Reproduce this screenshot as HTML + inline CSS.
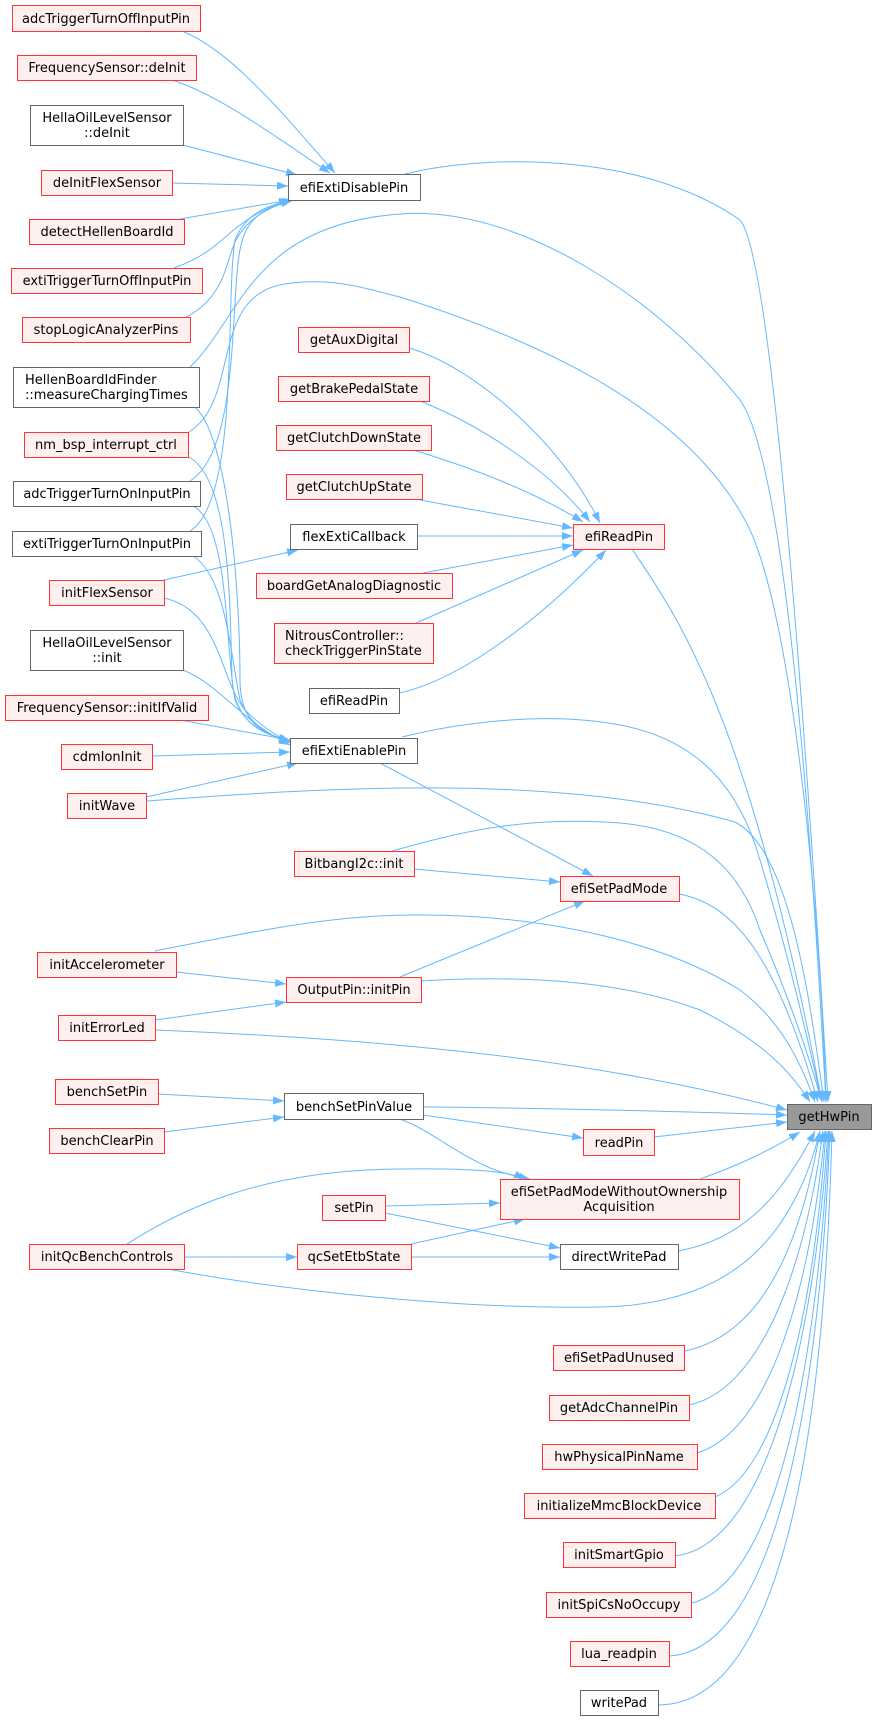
<!DOCTYPE html>
<html><head><meta charset="utf-8"><style>
html,body{margin:0;padding:0;background:#fff;}
svg{display:block;}
text{font-family:"DejaVu Sans","Liberation Sans",sans-serif;font-size:13px;fill:#000;}
.r{fill:#fff0f0;stroke:#f33;stroke-width:1;}
.g{fill:#fff;stroke:#666;stroke-width:1;}
.e{fill:none;stroke:#63b8ff;stroke-width:1;marker-end:url(#a);}
</style></head><body>
<svg width="876" height="1721" viewBox="0 0 876 1721" xmlns="http://www.w3.org/2000/svg">
<defs><marker id="a" markerUnits="userSpaceOnUse" markerWidth="12" markerHeight="8" refX="11" refY="4" orient="auto"><path d="M0,0 L11,4 L0,8 z" fill="#63b8ff"/></marker></defs>

<path class="e" d="M405,174 C480,155 640,150 740,220 C775,260 810,800 828,1102"/>
<path class="e" d="M190,367 C240,320 250,225 400,214 C520,205 660,300 740,400 C790,470 815,900 826,1102"/>
<path class="e" d="M189,432 C240,400 210,300 280,285 C330,275 370,290 400,297 C520,335 680,400 745,520 C790,600 820,900 826,1102"/>
<path class="e" d="M632,549 C680,620 750,720 822,1102"/>
<path class="e" d="M402,737 C450,725 540,710 620,725 C700,740 740,790 760,860 C790,960 810,1050 822,1102"/>
<path class="e" d="M146,801 C300,790 550,770 735,822 C790,850 810,1000 824,1102"/>
<path class="e" d="M392,851 C450,835 520,815 620,823 C700,830 740,870 760,930 C790,1000 810,1060 822,1102"/>
<path class="e" d="M679,894 C740,905 780,970 818,1102"/>
<path class="e" d="M155,951 C260,930 340,914 420,915 C540,915 660,940 740,990 C780,1020 800,1060 815,1102"/>
<path class="e" d="M421,981 C520,975 620,980 700,1010 C760,1040 790,1070 810,1102"/>
<path class="e" d="M155,1030 C400,1040 600,1060 787,1110"/>
<path class="e" d="M423,1107 C550,1108 700,1112 787,1115"/>
<path class="e" d="M654,1137 L787,1122"/>
<path class="e" d="M700,1179 C740,1165 770,1150 800,1132"/>
<path class="e" d="M678,1251 C740,1240 780,1200 815,1131"/>
<path class="e" d="M168,1269 C250,1285 440,1310 600,1307 C720,1305 790,1250 820,1131"/>
<path class="e" d="M685,1351 C760,1335 800,1250 820,1131"/>
<path class="e" d="M689,1405 C760,1390 805,1270 823,1131"/>
<path class="e" d="M697,1453 C770,1430 810,1290 825,1131"/>
<path class="e" d="M715,1497 C780,1470 815,1300 826,1131"/>
<path class="e" d="M675,1556 C770,1545 815,1330 828,1131"/>
<path class="e" d="M692,1603 C780,1580 818,1350 829,1131"/>
<path class="e" d="M669,1656 C780,1650 820,1380 830,1131"/>
<path class="e" d="M658,1705 C790,1705 825,1400 832,1131"/>

<path class="e" d="M409,348 C470,365 560,440 600,523"/>
<path class="e" d="M420,401 C480,425 550,470 590,522"/>
<path class="e" d="M413,450 C480,470 540,495 583,522"/>
<path class="e" d="M420,500 L573,528"/>
<path class="e" d="M417,536 L573,536"/>
<path class="e" d="M423,573 L573,545"/>
<path class="e" d="M416,623 L583,550"/>
<path class="e" d="M399,693 C460,680 540,620 606,550"/>

<path class="e" d="M182,31 C230,50 280,110 335,173"/>
<path class="e" d="M172,80 C220,95 280,140 330,173"/>
<path class="e" d="M183,145 L297,175"/>
<path class="e" d="M172,183 L288,186"/>
<path class="e" d="M180,219 L290,200"/>
<path class="e" d="M174,268 C210,255 220,240 240,225 C260,210 275,205 292,200"/>
<path class="e" d="M186,317 C220,300 225,270 232,250 C240,225 260,210 292,200"/>
<path class="e" d="M190,481 C240,450 230,300 240,250 C245,220 260,210 292,200"/>
<path class="e" d="M190,531 C240,500 225,300 235,240 C245,215 265,205 294,200"/>

<path class="e" d="M195,407 C230,440 240,600 240,680 C240,720 260,735 290,740"/>
<path class="e" d="M189,457 C230,480 230,600 232,680 C235,720 260,735 290,740"/>
<path class="e" d="M193,506 C230,525 225,650 235,700 C245,725 265,735 290,741"/>
<path class="e" d="M193,556 C225,575 230,650 240,700 C250,725 268,735 290,742"/>
<path class="e" d="M164,598 C220,610 220,680 245,710 C260,725 275,735 290,743"/>
<path class="e" d="M183,670 C220,685 240,720 290,745"/>
<path class="e" d="M180,720 L290,740"/>
<path class="e" d="M152,756 L290,752"/>
<path class="e" d="M146,797 L298,763"/>

<path class="e" d="M164,580 L298,550"/>
<path class="e" d="M380,763 L593,876"/>
<path class="e" d="M414,869 L560,882"/>
<path class="e" d="M400,977 L585,901"/>
<path class="e" d="M176,972 L286,984"/>
<path class="e" d="M155,1020 L286,1002"/>
<path class="e" d="M158,1094 L284,1101"/>
<path class="e" d="M164,1132 L284,1117"/>
<path class="e" d="M423,1115 L583,1138"/>
<path class="e" d="M400,1119 C430,1130 450,1150 490,1168 C505,1174 515,1176 530,1179"/>
<path class="e" d="M127,1244 C180,1210 260,1170 400,1169 C480,1168 510,1172 525,1179"/>
<path class="e" d="M385,1206 L500,1203"/>
<path class="e" d="M385,1213 L560,1248"/>
<path class="e" d="M411,1244 L525,1219"/>
<path class="e" d="M411,1257 L560,1257"/>
<path class="e" d="M184,1257 L297,1257"/>

<rect class="r" x="12.5" y="5.5" width="188" height="26"/><text x="106" y="23" text-anchor="middle">adcTriggerTurnOffInputPin</text>
<rect class="r" x="17.5" y="55.5" width="179" height="25"/><text x="107" y="72" text-anchor="middle">FrequencySensor::deInit</text>
<rect class="g" x="30.5" y="105.5" width="153" height="40"/><text x="107" y="122" text-anchor="middle">HellaOilLevelSensor</text><text x="107" y="137" text-anchor="middle">::deInit</text>
<rect class="r" x="41.5" y="170.5" width="131" height="25"/><text x="107" y="187" text-anchor="middle">deInitFlexSensor</text>
<rect class="r" x="29.5" y="219.5" width="155" height="25"/><text x="107" y="236" text-anchor="middle">detectHellenBoardId</text>
<rect class="r" x="11.5" y="268.5" width="191" height="25"/><text x="107" y="285" text-anchor="middle">extiTriggerTurnOffInputPin</text>
<rect class="r" x="22.5" y="317.5" width="168" height="25"/><text x="106" y="334" text-anchor="middle">stopLogicAnalyzerPins</text>
<rect class="g" x="13.5" y="367.5" width="186" height="40"/><text x="25" y="384">HellenBoardIdFinder</text><text x="25" y="399">::measureChargingTimes</text>
<rect class="r" x="24.5" y="432.5" width="164" height="25"/><text x="106" y="449" text-anchor="middle">nm_bsp_interrupt_ctrl</text>
<rect class="g" x="13.5" y="481.5" width="187" height="25"/><text x="107" y="498" text-anchor="middle">adcTriggerTurnOnInputPin</text>
<rect class="g" x="12.5" y="531.5" width="189" height="25"/><text x="107" y="548" text-anchor="middle">extiTriggerTurnOnInputPin</text>
<rect class="r" x="49.5" y="580.5" width="115" height="25"/><text x="107" y="597" text-anchor="middle">initFlexSensor</text>
<rect class="g" x="30.5" y="630.5" width="153" height="40"/><text x="107" y="647" text-anchor="middle">HellaOilLevelSensor</text><text x="107" y="662" text-anchor="middle">::init</text>
<rect class="r" x="5.5" y="695.5" width="203" height="25"/><text x="107" y="712" text-anchor="middle">FrequencySensor::initIfValid</text>
<rect class="r" x="61.5" y="744.5" width="91" height="25"/><text x="107" y="761" text-anchor="middle">cdmIonInit</text>
<rect class="r" x="67.5" y="793.5" width="79" height="25"/><text x="107" y="810" text-anchor="middle">initWave</text>
<rect class="r" x="37.5" y="952.5" width="139" height="25"/><text x="107" y="969" text-anchor="middle">initAccelerometer</text>
<rect class="r" x="58.5" y="1015.5" width="97" height="25"/><text x="107" y="1032" text-anchor="middle">initErrorLed</text>
<rect class="r" x="55.5" y="1079.5" width="103" height="25"/><text x="107" y="1096" text-anchor="middle">benchSetPin</text>
<rect class="r" x="49.5" y="1128.5" width="115" height="25"/><text x="107" y="1145" text-anchor="middle">benchClearPin</text>
<rect class="r" x="29.5" y="1244.5" width="155" height="25"/><text x="107" y="1261" text-anchor="middle">initQcBenchControls</text>

<rect class="g" x="288.5" y="174.5" width="132" height="26"/><text x="354" y="192" text-anchor="middle">efiExtiDisablePin</text>
<rect class="r" x="298.5" y="327.5" width="111" height="25"/><text x="354" y="344" text-anchor="middle">getAuxDigital</text>
<rect class="r" x="278.5" y="376.5" width="151" height="25"/><text x="354" y="393" text-anchor="middle">getBrakePedalState</text>
<rect class="r" x="276.5" y="425.5" width="155" height="25"/><text x="354" y="442" text-anchor="middle">getClutchDownState</text>
<rect class="r" x="286.5" y="474.5" width="136" height="25"/><text x="354" y="491" text-anchor="middle">getClutchUpState</text>
<rect class="g" x="290.5" y="524.5" width="127" height="25"/><text x="354" y="541" text-anchor="middle">flexExtiCallback</text>
<rect class="r" x="256.5" y="573.5" width="196" height="25"/><text x="354" y="590" text-anchor="middle">boardGetAnalogDiagnostic</text>
<rect class="r" x="274.5" y="623.5" width="159" height="40"/><text x="285" y="640">NitrousController::</text><text x="285" y="655">checkTriggerPinState</text>
<rect class="g" x="309.5" y="688.5" width="90" height="25"/><text x="354" y="705" text-anchor="middle">efiReadPin</text>
<rect class="g" x="290.5" y="738.5" width="127" height="25"/><text x="354" y="755" text-anchor="middle">efiExtiEnablePin</text>
<rect class="r" x="294.5" y="851.5" width="120" height="25"/><text x="354" y="868" text-anchor="middle">BitbangI2c::init</text>
<rect class="r" x="286.5" y="977.5" width="135" height="25"/><text x="354" y="994" text-anchor="middle">OutputPin::initPin</text>
<rect class="g" x="284.5" y="1093.5" width="139" height="26"/><text x="354" y="1111" text-anchor="middle">benchSetPinValue</text>
<rect class="r" x="322.5" y="1195.5" width="63" height="25"/><text x="354" y="1212" text-anchor="middle">setPin</text>
<rect class="r" x="297.5" y="1244.5" width="114" height="25"/><text x="354" y="1261" text-anchor="middle">qcSetEtbState</text>

<rect class="r" x="573.5" y="524.5" width="91" height="25"/><text x="619" y="541" text-anchor="middle">efiReadPin</text>
<rect class="r" x="560.5" y="876.5" width="119" height="25"/><text x="619" y="893" text-anchor="middle">efiSetPadMode</text>
<rect class="r" x="583.5" y="1129.5" width="71" height="26"/><text x="619" y="1147" text-anchor="middle">readPin</text>
<rect class="r" x="500.5" y="1179.5" width="239" height="40"/><text x="619" y="1196" text-anchor="middle">efiSetPadModeWithoutOwnership</text><text x="619" y="1211" text-anchor="middle">Acquisition</text>
<rect class="g" x="560.5" y="1244.5" width="118" height="25"/><text x="619" y="1261" text-anchor="middle">directWritePad</text>
<rect class="r" x="553.5" y="1345.5" width="131" height="25"/><text x="619" y="1362" text-anchor="middle">efiSetPadUnused</text>
<rect class="r" x="549.5" y="1395.5" width="140" height="25"/><text x="619" y="1412" text-anchor="middle">getAdcChannelPin</text>
<rect class="r" x="542.5" y="1444.5" width="155" height="25"/><text x="619" y="1461" text-anchor="middle">hwPhysicalPinName</text>
<rect class="r" x="524.5" y="1493.5" width="191" height="25"/><text x="619" y="1510" text-anchor="middle">initializeMmcBlockDevice</text>
<rect class="r" x="563.5" y="1542.5" width="112" height="25"/><text x="619" y="1559" text-anchor="middle">initSmartGpio</text>
<rect class="r" x="546.5" y="1592.5" width="145" height="25"/><text x="619" y="1609" text-anchor="middle">initSpiCsNoOccupy</text>
<rect class="r" x="570.5" y="1641.5" width="99" height="25"/><text x="619" y="1658" text-anchor="middle">lua_readpin</text>
<rect class="g" x="580.5" y="1690.5" width="78" height="25"/><text x="619" y="1707" text-anchor="middle">writePad</text>

<rect x="787.5" y="1104.5" width="84" height="25" fill="#999" stroke="#666"/><text x="829" y="1121" text-anchor="middle">getHwPin</text>
</svg>
</body></html>
